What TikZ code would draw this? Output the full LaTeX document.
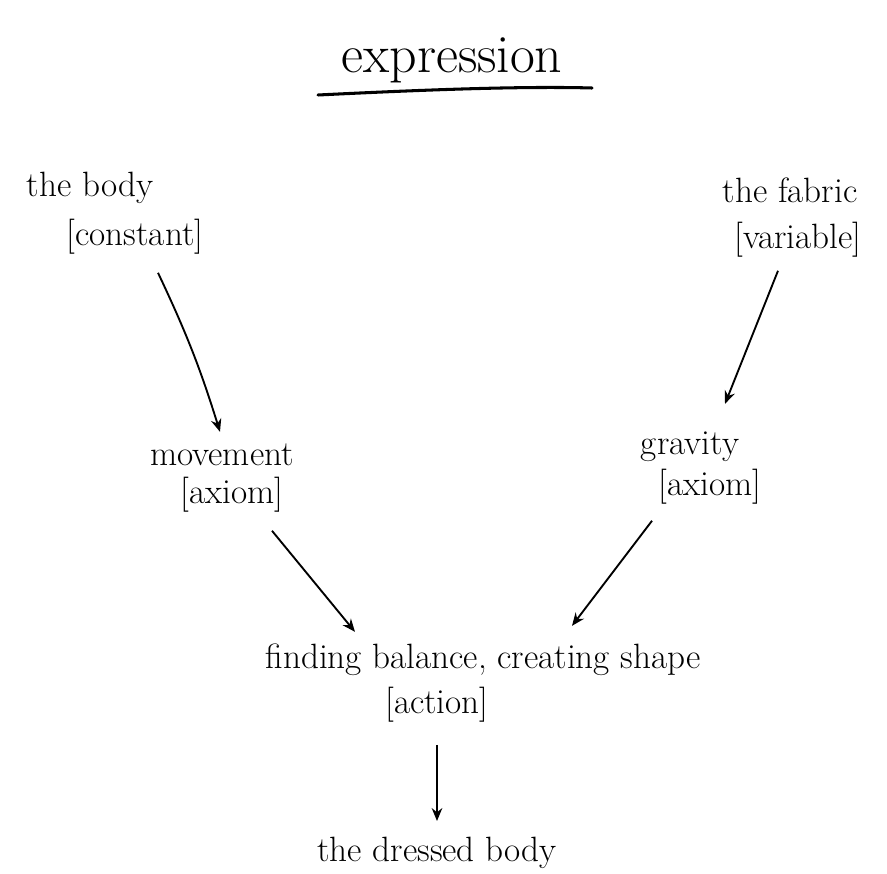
\documentclass[tikz,border=0pt]{standalone}
\usetikzlibrary{arrows.meta}
\begin{document}
\begin{tikzpicture}[x=0.03cm,y=-0.03cm,
  lbl/.style={inner sep=0pt,font=\fontsize{30}{34}\selectfont},
  ttl/.style={inner sep=0pt,font=\fontsize{46}{52}\selectfont},
  arr/.style={line width=1.6pt,-{Stealth[length=11pt,width=9pt]}},
  uline/.style={line width=2.6pt,line cap=round}]
\useasboundingbox (0,0) rectangle (887,874);
\fill[white] (0,0) rectangle (887,874);
\node[ttl] (title) at (452,60) {expression};
\coordinate (ulA) at (318,95);
\coordinate (ulB) at (592,88);
\draw[uline] (ulA) .. controls (420,90) and (520,86) .. (ulB);
\node[lbl] (body) at (90,188) {the body};
\node[lbl] (bodyt) at (135,237) {[constant]};
\node[lbl] (fabric) at (790,190) {the fabric};
\node[lbl] (fabrict) at (798,240) {[variable]};
\node[lbl] (move) at (222,455) {movement};
\node[lbl] (movet) at (232,495) {[axiom]};
\node[lbl] (grav) at (690,447) {gravity};
\node[lbl] (gravt) at (710,487) {[axiom]};
\node[lbl] (find) at (483,660) {finding balance, creating shape};
\node[lbl] (findt) at (437,705) {[action]};
\node[lbl] (dressed) at (437,853) {the dressed body};
\draw[arr] ([shift={(23,18)}]bodyt.south) to[bend left=4] ([shift={(-2,-12)}]move.north);
\draw[arr] ([shift={(-20,13)}]fabrict.south) -- ([shift={(35,-28)}]grav.north);
\draw[arr] ([shift={(40,18)}]movet.south) -- ([shift={(-128,-12)}]find.north);
\draw[arr] ([shift={(-58,16)}]gravt.south) -- ([shift={(89,-18)}]find.north);
\draw[arr] ([shift={(0,22)}]findt.south) -- ([shift={(0,-16)}]dressed.north);
\end{tikzpicture}
\end{document}
